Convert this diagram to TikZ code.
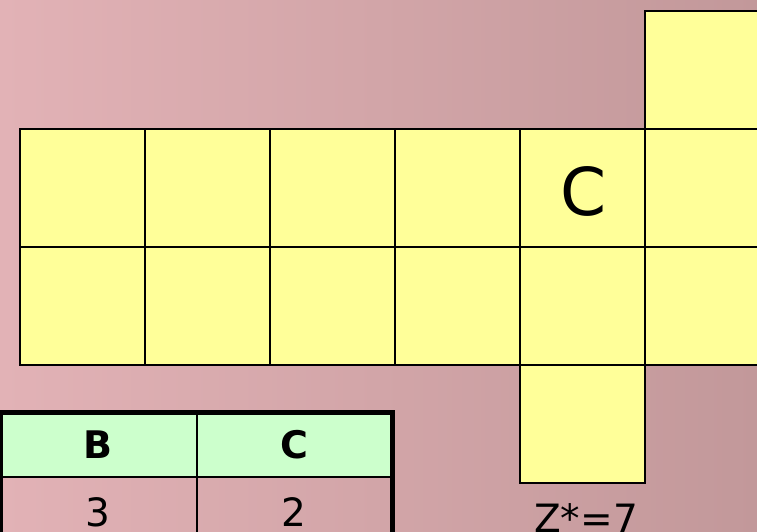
\documentclass[tikz,border=0pt]{standalone}
\usepackage{fontspec}
\setmainfont{DejaVu Sans}
\definecolor{bgL}{RGB}{226,178,182}
\definecolor{bgR}{RGB}{194,152,154}
\definecolor{cellY}{RGB}{255,255,153}
\definecolor{hdrG}{RGB}{204,255,204}
\begin{document}
\begin{tikzpicture}[x=1pt,y=-1pt,
  cell/.style={draw=black,line width=1.6pt,fill=cellY},
  tbl/.style={draw=black,line width=1.8pt},
  tblouter/.style={draw=black,line width=5pt},
  big/.style={font=\fontsize{66}{66}\selectfont},
  tx/.style={font=\fontsize{39}{39}\selectfont},
  txb/.style={font=\fontsize{38}{38}\selectfont\bfseries}]
\useasboundingbox (0,0) rectangle (757,531);
\shade[left color=bgL,right color=bgR] (0,0) rectangle (757,531);
% grid cells
\foreach \i in {0,...,5}{
  \path[cell] (20+125*\i,129) rectangle ++(125,118);
  \path[cell] (20+125*\i,247) rectangle ++(125,118);
}
\path[cell] (645,11) rectangle ++(125,118);
\path[cell] (520,365) rectangle ++(125,118);
\node[big] (c) at (584,191) {C};
\node[tx,anchor=base] (z) at (586,532) {Z*=7};
% table
\path[fill=hdrG] (0,412) rectangle (392,477);
\draw[tbl] (0,477) -- (392,477);
\draw[tbl] (197,412) -- (197,540);
\draw[tblouter] (0,540) -- (0,412) -- (392,412) -- (392,540);
\node[txb] (hb) at (98,445) {B};
\node[txb] (hc) at (294,445) {C};
\node[tx,anchor=base] (v3) at (98,526) {3};
\node[tx,anchor=base] (v2) at (294,526) {2};
\end{tikzpicture}
\end{document}
